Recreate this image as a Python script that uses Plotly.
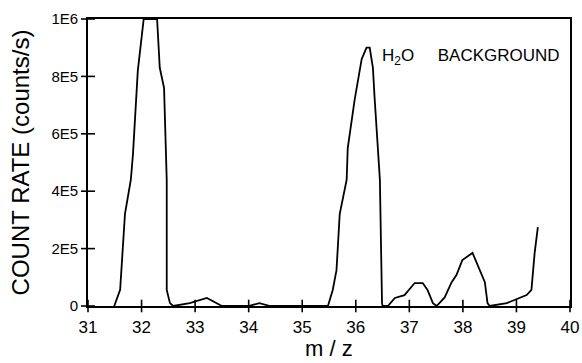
import plotly.graph_objects as go

# m/z values and count rates
mz = [31.49, 31.60, 31.69, 31.80, 31.84, 31.93, 32.04, 32.29, 32.34, 32.42, 32.47, 32.47, 32.53, 32.59,
      32.90, 33.22, 33.50, 34.00, 34.20, 34.40, 35.00, 35.48,
      35.57, 35.64, 35.70, 35.83, 35.85, 35.98, 36.11, 36.20, 36.26, 36.32, 36.35, 36.45, 36.49, 36.50,
      36.60, 36.73, 36.91, 37.10, 37.25, 37.34, 37.44, 37.51,
      37.66, 37.79, 37.88, 37.99, 38.18, 38.31, 38.41, 38.46, 38.50,
      38.82, 39.00, 39.19, 39.28, 39.34, 39.40]
rate = [0.0, 0.056e6, 0.32e6, 0.44e6, 0.53e6, 0.82e6, 1.0e6, 1.0e6, 0.83e6, 0.76e6, 0.44e6, 0.056e6, 0.01e6, 0.0,
        0.01e6, 0.028e6, 0.0, 0.0, 0.01e6, 0.0, 0.0, 0.0,
        0.056e6, 0.125e6, 0.32e6, 0.44e6, 0.55e6, 0.72e6, 0.86e6, 0.90e6, 0.90e6, 0.83e6, 0.73e6, 0.44e6, 0.01e6, 0.0,
        0.0, 0.028e6, 0.038e6, 0.08e6, 0.08e6, 0.056e6, 0.01e6, 0.0,
        0.03e6, 0.083e6, 0.108e6, 0.16e6, 0.185e6, 0.13e6, 0.083e6, 0.01e6, 0.0,
        0.01e6, 0.024e6, 0.038e6, 0.056e6, 0.185e6, 0.275e6]

x_ticks = [31, 32, 33, 34, 35, 36, 37, 38, 39, 40]
y_ticks = [0, 2e5, 4e5, 6e5, 8e5, 1e6]
y_tick_labels = ["0", "2E5", "4E5", "6E5", "8E5", "1E6"]
X_MIN, X_MAX = 31, 40
Y_MIN, Y_MAX = 0, 1e6

FONT = "Liberation Sans, Arial, sans-serif"

fig = go.Figure()
fig.add_trace(go.Scatter(x=mz, y=rate, mode="lines",
                         line=dict(color="black", width=1.8), showlegend=False,
                         hoverinfo="skip"))
# crossing tick marks, placed on the axes through the library's scales
fig.add_trace(go.Scatter(x=x_ticks, y=[Y_MIN] * len(x_ticks), mode="markers", cliponaxis=False,
                         marker=dict(symbol="line-ns-open", size=9, color="black",
                                     line=dict(color="black", width=1.6)),
                         showlegend=False, hoverinfo="skip"))
fig.add_trace(go.Scatter(x=[X_MIN] * len(y_ticks), y=y_ticks, mode="markers", cliponaxis=False,
                         marker=dict(symbol="line-ew-open", size=10, color="black",
                                     line=dict(color="black", width=1.6)),
                         showlegend=False, hoverinfo="skip"))

axis_common = dict(showgrid=False, zeroline=False, showline=True, linecolor="black",
                   linewidth=1.6, mirror=True, ticks="outside", tickcolor="rgba(0,0,0,0)",
                   ticklen=5, tickwidth=1, automargin=False)

fig.update_layout(
    width=582, height=363,
    margin=dict(l=88, r=12, t=19, b=57),
    paper_bgcolor="white", plot_bgcolor="white",
    font=dict(family=FONT, color="black"),
    xaxis=dict(range=[X_MIN, X_MAX], tickmode="array", tickvals=x_ticks, ticktext=[str(v) for v in x_ticks],
               tickfont=dict(size=17), title=dict(text=""),
               **axis_common),
    yaxis=dict(range=[Y_MIN, Y_MAX], tickmode="array", tickvals=y_ticks, ticktext=y_tick_labels,
               tickfont=dict(size=15), title=dict(text="COUNT RATE (counts/s)", font=dict(size=24)),
               **axis_common),
    annotations=[
        dict(x=36.45, y=0.868e6, xref="x", yref="y", xanchor="left", yanchor="middle",
             text="H<sub>2</sub>O" + "\u00a0" * 5 + "BACKGROUND", showarrow=False,
             font=dict(size=17, family=FONT)),
        dict(x=0.5, y=-0.097, xref="paper", yref="paper", xanchor="center", yanchor="top",
             text="m / z", showarrow=False, font=dict(size=22, family=FONT)),
    ],
)

fig.write_html("out.html")
